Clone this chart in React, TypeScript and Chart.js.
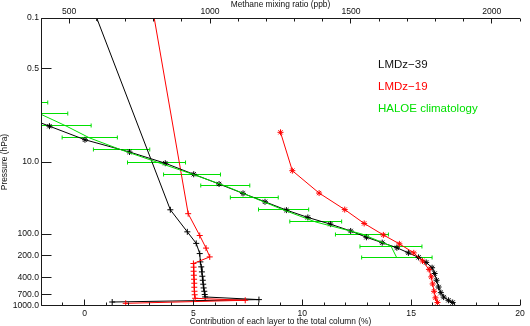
import { useEffect, useRef } from 'react';
import { Chart, registerables } from 'chart.js';

Chart.register(...registerables);

// ---- data -------------------------------------------------------------

// HALOE climatology: methane (ppb) with its spread, on HALOE pressure levels (hPa)
const haloePressure = [1.47, 2.15, 3.16, 4.64, 6.81, 10.0, 14.7, 21.5, 31.6, 46.4, 68.1, 100, 147, 215];
const haloeCh4 = [332, 397, 489, 573, 686, 810, 936, 1054, 1157, 1261, 1375, 1539, 1642, 1663];
const haloeSpread = [92, 98, 89, 98, 100, 103, 101, 87, 85, 89, 92, 94, 110, 125];

// LMDz-39 methane profile (ppb)
const lmdz39Pressure = [2.28, 3.18, 4.91, 7.26, 10.4, 14.8, 20.2, 27.3, 35.7, 46.6, 58.9, 72.9, 90.8, 111, 132, 155, 183, 211, 248, 294, 354, 439, 545, 652, 752, 833, 894];
const lmdz39Ch4 = [332, 430, 556, 714, 841, 942, 1032, 1117, 1195, 1271, 1347, 1427, 1499, 1555, 1611, 1663, 1704, 1740, 1767, 1788, 1797, 1804, 1811, 1819, 1829, 1846, 1861];

// LMDz-19 methane profile (ppb)
const lmdz19Pressure = [3.87, 13.2, 27.0, 45.8, 71.3, 103, 137, 183, 237, 310, 394, 494, 625, 771, 893];
const lmdz19Ch4 = [1250, 1292, 1387, 1478, 1547, 1615, 1672, 1723, 1754, 1777, 1785, 1790, 1795, 1800, 1807];

// Contribution of each layer to the total column (%)
const contrib39Pressure = [0.1, 46.1, 93.3, 135, 187, 244, 286, 336, 386, 439, 498, 561, 624, 693, 749, 815, 880];
const contrib39 = [0.56, 3.94, 4.72, 5.13, 5.29, 5.32, 5.36, 5.39, 5.41, 5.43, 5.45, 5.47, 5.5, 5.52, 5.54, 8.01, 1.27];
const contrib19Pressure = [0.1, 52.2, 105, 157, 208, 257, 289, 329, 374, 425, 483, 549, 624, 698, 782, 833, 918];
const contrib19 = [3.2, 4.76, 5.29, 5.58, 5.75, 5.0, 5.01, 5.01, 5.02, 5.03, 5.04, 5.04, 5.05, 5.06, 5.08, 7.38, 1.89];

// axis ticks
const pressureTicks = [0.1, 0.5, 10, 100, 200, 400, 700, 1000];
const contributionTicks = [0, 5, 10, 15, 20];
const methaneTicks = [500, 1000, 1500, 2000];

const legendLabels = ['LMDz\u221239', 'LMDz\u221219', 'HALOE climatology'];

// ---- styling ----------------------------------------------------------

const FONT = '"Liberation Sans", Arial, Helvetica, sans-serif';
const INK = '#111111';
const BLACK = '#000000';
const RED = '#ff0000';
const GREEN = '#00e000';

const tickFont = { family: FONT, size: 8.6 };
const titleFont = { family: FONT, size: 8.4, lineHeight: 1 };

const zip = (xs: number[], ys: number[]) => xs.map((x, i) => ({ x, y: ys[i] }));

// Frame, inward tick marks, HALOE spread bars and the key
const framePlugin = {
  id: 'profileFrame',
  beforeDatasetsDraw(chart: any) {
    const { ctx, chartArea: a, scales } = chart;
    const xs = scales.xTop;
    const ys = scales.y;
    ctx.save();
    ctx.beginPath();
    ctx.rect(a.left, a.top, a.right - a.left, a.bottom - a.top);
    ctx.clip();
    ctx.strokeStyle = GREEN;
    ctx.lineWidth = 1;
    haloePressure.forEach((p, i) => {
      const y = Math.floor(ys.getPixelForValue(p)) + 0.5;
      const x1 = xs.getPixelForValue(haloeCh4[i] - haloeSpread[i]);
      const x2 = xs.getPixelForValue(haloeCh4[i] + haloeSpread[i]);
      ctx.beginPath();
      ctx.moveTo(x1, y);
      ctx.lineTo(x2, y);
      ctx.moveTo(x1, y - 2);
      ctx.lineTo(x1, y + 2);
      ctx.moveTo(x2, y - 2);
      ctx.lineTo(x2, y + 2);
      ctx.stroke();
    });
    ctx.restore();
  },
  afterDraw(chart: any) {
    const { ctx, chartArea: a, scales } = chart;
    const L = Math.round(a.left) + 0.5;
    const R = Math.round(a.right);
    const T = Math.round(a.top) + 0.5;
    const B = Math.round(a.bottom) - 0.5;
    ctx.save();
    ctx.strokeStyle = '#1a1a1a';
    ctx.lineWidth = 1;
    ctx.beginPath();
    // axis lines: left, top and bottom
    ctx.moveTo(L, T);
    ctx.lineTo(L, B);
    ctx.moveTo(L, T);
    ctx.lineTo(R, T);
    ctx.moveTo(L, B);
    ctx.lineTo(R, B);
    // pressure ticks point into the plot
    pressureTicks.forEach((p) => {
      let y = Math.floor(scales.y.getPixelForValue(p)) + 0.5;
      y = Math.min(Math.max(y, T), B);
      ctx.moveTo(L, y);
      ctx.lineTo(L + 10, y);
    });
    // contribution ticks along the bottom
    for (let v = -2; v <= 20; v += 1) {
      const x = Math.floor(scales.x.getPixelForValue(v)) + 0.5;
      const len = v % 5 === 0 ? 6 : 3;
      ctx.moveTo(x, B);
      ctx.lineTo(x, B - len);
    }
    // methane ticks along the top
    for (let v = 400; v <= 2100; v += 100) {
      const x = Math.floor(scales.xTop.getPixelForValue(v)) + 0.5;
      const len = v % 500 === 0 ? 5 : 3;
      ctx.moveTo(x, T);
      ctx.lineTo(x, T + len);
    }
    ctx.stroke();

    // key
    ctx.font = `11.5px ${FONT}`;
    ctx.textAlign = 'left';
    ctx.textBaseline = 'alphabetic';
    const colors = [INK, RED, GREEN];
    const baselines = [68.2, 90, 111.5];
    legendLabels.forEach((label, i) => {
      ctx.fillStyle = colors[i];
      ctx.fillText(label, 378, baselines[i]);
    });
    ctx.restore();
  },
};

const hiddenGrid = { display: false, drawTicks: false, tickLength: 0 };

export default function App() {
  const canvasRef = useRef<HTMLCanvasElement | null>(null);

  useEffect(() => {
    const canvas = canvasRef.current;
    if (!canvas) return;

    const chart = new Chart(canvas, {
      type: 'scatter',
      data: {
        datasets: [
          {
            label: 'LMDz-19 CH4',
            xAxisID: 'xTop',
            data: zip(lmdz19Ch4, lmdz19Pressure),
            showLine: true,
            borderColor: RED,
            backgroundColor: RED,
            borderWidth: 1,
            pointStyle: 'star',
            pointRadius: 3,
            pointBorderWidth: 1,
            tension: 0,
          },
          {
            label: 'HALOE climatology',
            xAxisID: 'xTop',
            data: zip(haloeCh4, haloePressure),
            showLine: true,
            borderColor: GREEN,
            backgroundColor: GREEN,
            borderWidth: 1,
            pointRadius: 0,
            tension: 0,
          },
          {
            label: 'LMDz-39 CH4',
            xAxisID: 'xTop',
            data: zip(lmdz39Ch4, lmdz39Pressure),
            showLine: true,
            borderColor: BLACK,
            backgroundColor: BLACK,
            borderWidth: 1,
            pointStyle: 'star',
            pointRadius: 3,
            pointBorderWidth: 1,
            tension: 0,
          },
          {
            label: 'LMDz-19 contribution',
            xAxisID: 'x',
            data: zip(contrib19, contrib19Pressure),
            showLine: true,
            borderColor: RED,
            backgroundColor: RED,
            borderWidth: 1,
            pointStyle: 'cross',
            pointRadius: 3,
            pointBorderWidth: 1,
            tension: 0,
          },
          {
            label: 'LMDz-39 contribution',
            xAxisID: 'x',
            data: zip(contrib39, contrib39Pressure),
            showLine: true,
            borderColor: BLACK,
            backgroundColor: BLACK,
            borderWidth: 1,
            pointStyle: 'cross',
            pointRadius: 3,
            pointBorderWidth: 1,
            tension: 0,
          },
        ],
      },
      options: {
        responsive: false,
        animation: false,
        devicePixelRatio: 1,
        events: [],
        layout: { padding: { left: 0, top: 0, right: 10, bottom: 0 } },
        plugins: {
          legend: { display: false },
          tooltip: { enabled: false },
        },
        scales: {
          x: {
            type: 'linear',
            position: 'bottom',
            min: -2,
            max: 20,
            grid: hiddenGrid,
            border: { display: false },
            ticks: {
              font: tickFont,
              color: INK,
              padding: 2,
              autoSkip: false,
              maxRotation: 0,
              callback: (v: any) => String(v),
            },
            afterBuildTicks: (s: any) => {
              s.ticks = contributionTicks.map((value) => ({ value }));
            },
            afterFit: (s: any) => {
              s.height = 20;
            },
            title: {
              display: true,
              text: 'Contribution of each layer to the total column (%)',
              font: titleFont,
              color: INK,
              padding: 0,
            },
          },
          xTop: {
            type: 'linear',
            position: 'top',
            min: 400,
            max: 2100,
            grid: hiddenGrid,
            border: { display: false },
            ticks: {
              font: tickFont,
              color: INK,
              padding: 1.5,
              autoSkip: false,
              maxRotation: 0,
              callback: (v: any) => String(v),
            },
            afterBuildTicks: (s: any) => {
              s.ticks = methaneTicks.map((value) => ({ value }));
            },
            afterFit: (s: any) => {
              s.height = 18;
            },
            title: {
              display: true,
              text: 'Methane mixing ratio (ppb)',
              font: titleFont,
              color: INK,
              padding: 0,
            },
          },
          y: {
            type: 'logarithmic',
            position: 'left',
            reverse: true,
            min: 0.1,
            max: 1000,
            grid: hiddenGrid,
            border: { display: false },
            ticks: {
              font: tickFont,
              color: INK,
              padding: 2,
              autoSkip: false,
              callback: (v: any) => Number(v).toFixed(1),
            },
            afterBuildTicks: (s: any) => {
              s.ticks = pressureTicks.map((value) => ({ value }));
            },
            afterFit: (s: any) => {
              s.width = 41;
            },
            title: {
              display: true,
              text: 'Pressure (hPa)',
              font: titleFont,
              color: INK,
              padding: 0,
            },
          },
        },
      } as any,
      plugins: [framePlugin],
    });

    return () => chart.destroy();
  }, []);

  return (
    <div
      style={{
        position: 'fixed',
        left: 0,
        top: 0,
        width: 530,
        height: 326,
        background: '#ffffff',
        overflow: 'hidden',
      }}
    >
      <canvas ref={canvasRef} width={530} height={326} style={{ display: 'block', width: 530, height: 326 }} />
    </div>
  );
}
